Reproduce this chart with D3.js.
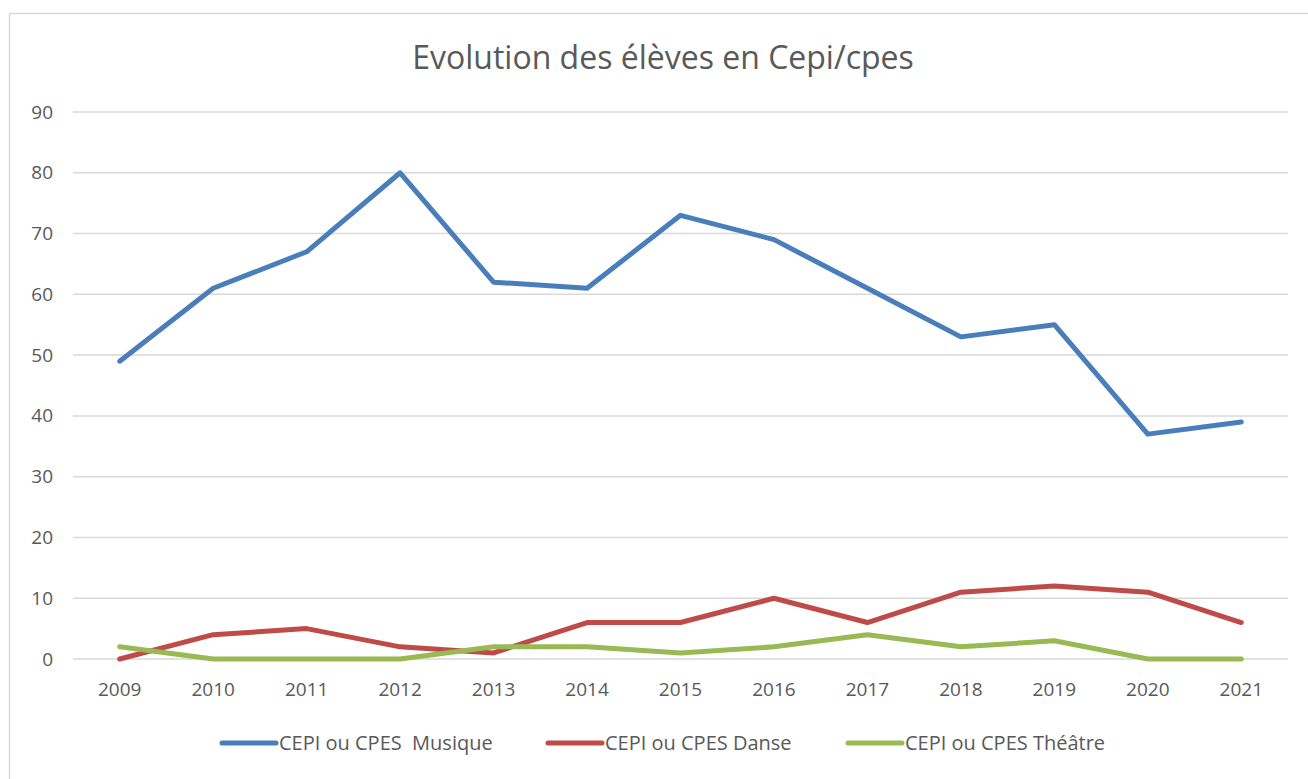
<!DOCTYPE html>
<html>
<head>
<meta charset="utf-8">
<script src="https://cdn.jsdelivr.net/npm/d3@7"></script>
<style>
  body { margin: 0; background: #fff; }
</style>
</head>
<body>
<div id="chart"></div>
<script>
const years = ["2009","2010","2011","2012","2013","2014","2015","2016","2017","2018","2019","2020","2021"];
const musique = [49, 61, 67, 80, 62, 61, 73, 69, 61, 53, 55, 37, 39];
const danse = [0, 4, 5, 2, 1, 6, 6, 10, 6, 11, 12, 11, 6];
const theatre = [2, 0, 0, 0, 2, 2, 1, 2, 4, 2, 3, 0, 0];
const seriesNames = ["CEPI ou CPES\u00a0 Musique", "CEPI ou CPES Danse", "CEPI ou CPES Théâtre"];
const yTicks = [0, 10, 20, 30, 40, 50, 60, 70, 80, 90];

const width = 1308, height = 779;
const margin = { top: 112, right: 20, bottom: 120, left: 73 };
const innerWidth = width - margin.left - margin.right;
const innerHeight = height - margin.top - margin.bottom;
const colors = ["#4a7ebb", "#be4b48", "#98b954"];
const font = "Open Sans, sans-serif";
const textColor = "#595959";

const svg = d3.select("#chart")
              .append("svg")
              .attr("width", width)
              .attr("height", height)
              .attr("font-family", font)
              .style("display", "block");

// chart frame: only top and left edges are visible
svg.append("line")
   .attr("x1", 9.5).attr("x2", 9.5)
   .attr("y1", 13.5).attr("y2", height)
   .attr("stroke", "#d9d9d9")
   .attr("stroke-width", 1.5);
svg.append("line")
   .attr("x1", 9.5).attr("x2", width)
   .attr("y1", 13.5).attr("y2", 13.5)
   .attr("stroke", "#d9d9d9")
   .attr("stroke-width", 1.5);

svg.append("text")
   .attr("x", 663)
   .attr("y", 69)
   .attr("text-anchor", "middle")
   .attr("font-family", font)
   .attr("font-size", 32)
   .attr("fill", textColor)
   .text("Evolution des élèves en Cepi/cpes");

const inner = svg.append("g")
                 .attr("transform", `translate(${margin.left}, ${margin.top})`);

const xScale = d3.scaleBand().domain(years).range([0, innerWidth]);
const yScale = d3.scaleLinear().domain([0, 90]).range([innerHeight, 0]);

inner.selectAll("line.grid")
     .data(yTicks)
     .join("line")
     .attr("class", "grid")
     .attr("x1", 0)
     .attr("x2", innerWidth)
     .attr("y1", d => yScale(d))
     .attr("y2", d => yScale(d))
     .attr("stroke", "#d9d9d9")
     .attr("stroke-width", 1.5);

const yAxis = inner.append("g")
                   .call(d3.axisLeft(yScale).tickValues(yTicks).tickSize(0).tickPadding(20))
                   .attr("font-family", font)
                   .attr("font-size", 19);
yAxis.select(".domain").remove();
yAxis.selectAll("text").attr("fill", textColor);

const xAxis = inner.append("g")
                   .attr("transform", `translate(0, ${innerHeight})`)
                   .call(d3.axisBottom(xScale).tickSize(0).tickPadding(24))
                   .attr("font-family", font)
                   .attr("font-size", 19);
xAxis.select(".domain").remove();
xAxis.selectAll("text").attr("fill", textColor);

const series = [musique, danse, theatre];
const line = d3.line()
               .x((d, i) => xScale(years[i]) + xScale.bandwidth() / 2)
               .y(d => yScale(d));

inner.selectAll("path.series")
     .data(series)
     .join("path")
     .attr("class", "series")
     .attr("d", d => line(d))
     .attr("fill", "none")
     .attr("stroke", (d, i) => colors[i])
     .attr("stroke-width", 5)
     .attr("stroke-linejoin", "round")
     .attr("stroke-linecap", "round");

const legendX = [222, 548, 848];
const legend = svg.append("g").attr("transform", "translate(0, 743)");

legend.selectAll("line")
      .data(seriesNames)
      .join("line")
      .attr("x1", (d, i) => legendX[i])
      .attr("x2", (d, i) => legendX[i] + 54)
      .attr("y1", 0)
      .attr("y2", 0)
      .attr("stroke", (d, i) => colors[i])
      .attr("stroke-width", 5)
      .attr("stroke-linecap", "round");

legend.selectAll("text")
      .data(seriesNames)
      .join("text")
      .attr("x", (d, i) => legendX[i] + 57)
      .attr("y", 0)
      .attr("dy", "0.35em")
      .attr("font-family", font)
      .attr("font-size", 20)
      .attr("fill", textColor)
      .text(d => d);
</script>
</body>
</html>
